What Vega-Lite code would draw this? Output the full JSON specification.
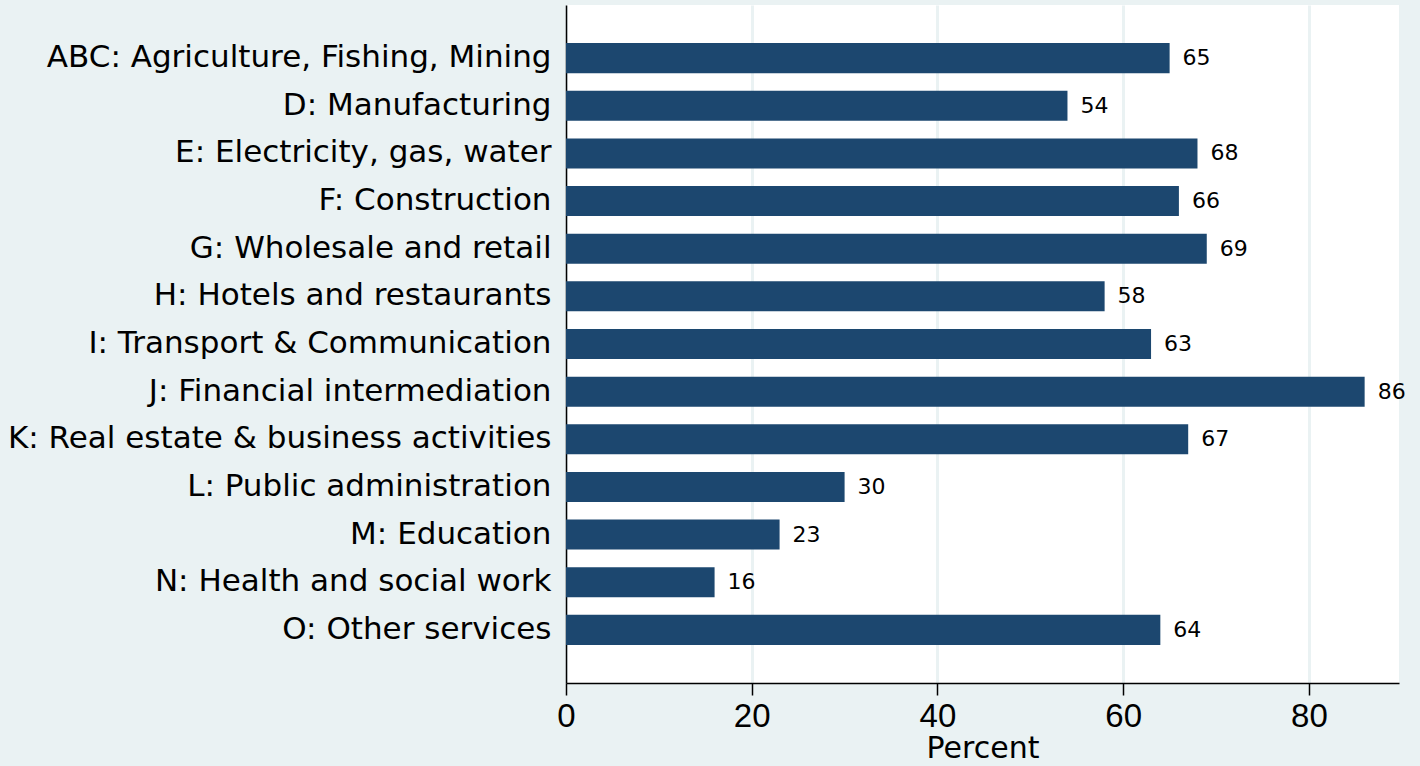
{
  "$schema": "https://vega.github.io/schema/vega-lite/v6.json",
  "width": 833,
  "height": 678,
  "autosize": {"type": "none"},
  "padding": {"left": 566, "top": 5, "right": 21, "bottom": 83},
  "background": "#EAF2F3",
  "config": {
    "view": {"fill": "white", "stroke": null},
    "font": "DejaVu Sans"
  },
  "data": {
    "values": [
      {"sector": "ABC: Agriculture, Fishing, Mining", "percent": 65},
      {"sector": "D: Manufacturing", "percent": 54},
      {"sector": "E: Electricity, gas, water", "percent": 68},
      {"sector": "F: Construction", "percent": 66},
      {"sector": "G: Wholesale and retail", "percent": 69},
      {"sector": "H: Hotels and restaurants", "percent": 58},
      {"sector": "I: Transport & Communication", "percent": 63},
      {"sector": "J: Financial intermediation", "percent": 86},
      {"sector": "K: Real estate & business activities", "percent": 67},
      {"sector": "L: Public administration", "percent": 30},
      {"sector": "M: Education", "percent": 23},
      {"sector": "N: Health and social work", "percent": 16},
      {"sector": "O: Other services", "percent": 64}
    ]
  },
  "encoding": {
    "y": {
      "field": "sector",
      "type": "nominal",
      "sort": null,
      "scale": {"paddingInner": 0.37, "paddingOuter": 0.8},
      "axis": {
        "title": null,
        "ticks": false,
        "labelFont": "DejaVu Sans",
        "labelFontSize": 31,
        "labelColor": "black",
        "labelPadding": 15,
        "labelLimit": 600,
        "domainColor": "black",
        "domainWidth": 1.5,
        "grid": false
      }
    },
    "x": {
      "field": "percent",
      "type": "quantitative",
      "scale": {"domain": [0, 89.7], "nice": false, "zero": true},
      "axis": {
        "values": [0, 20, 40, 60, 80],
        "title": "Percent",
        "titleFont": "DejaVu Sans",
        "titleFontSize": 30,
        "titleFontWeight": "normal",
        "titleColor": "black",
        "titlePadding": 0,
        "labelFont": "Liberation Sans",
        "labelFontSize": 33,
        "labelColor": "black",
        "labelPadding": 5,
        "labelFlush": false,
        "labelOverlap": false,
        "tickSize": 12,
        "tickColor": "black",
        "tickWidth": 1.5,
        "domainColor": "black",
        "domainWidth": 1.5,
        "grid": true,
        "gridColor": "#EAF2F3",
        "gridWidth": 3
      }
    }
  },
  "layer": [
    {"mark": {"type": "bar", "color": "#1C476F"}},
    {
      "mark": {"type": "text", "align": "left", "baseline": "middle", "dx": 13, "font": "DejaVu Sans", "fontSize": 22, "color": "black"},
      "encoding": {"text": {"field": "percent", "type": "quantitative"}}
    }
  ]
}
